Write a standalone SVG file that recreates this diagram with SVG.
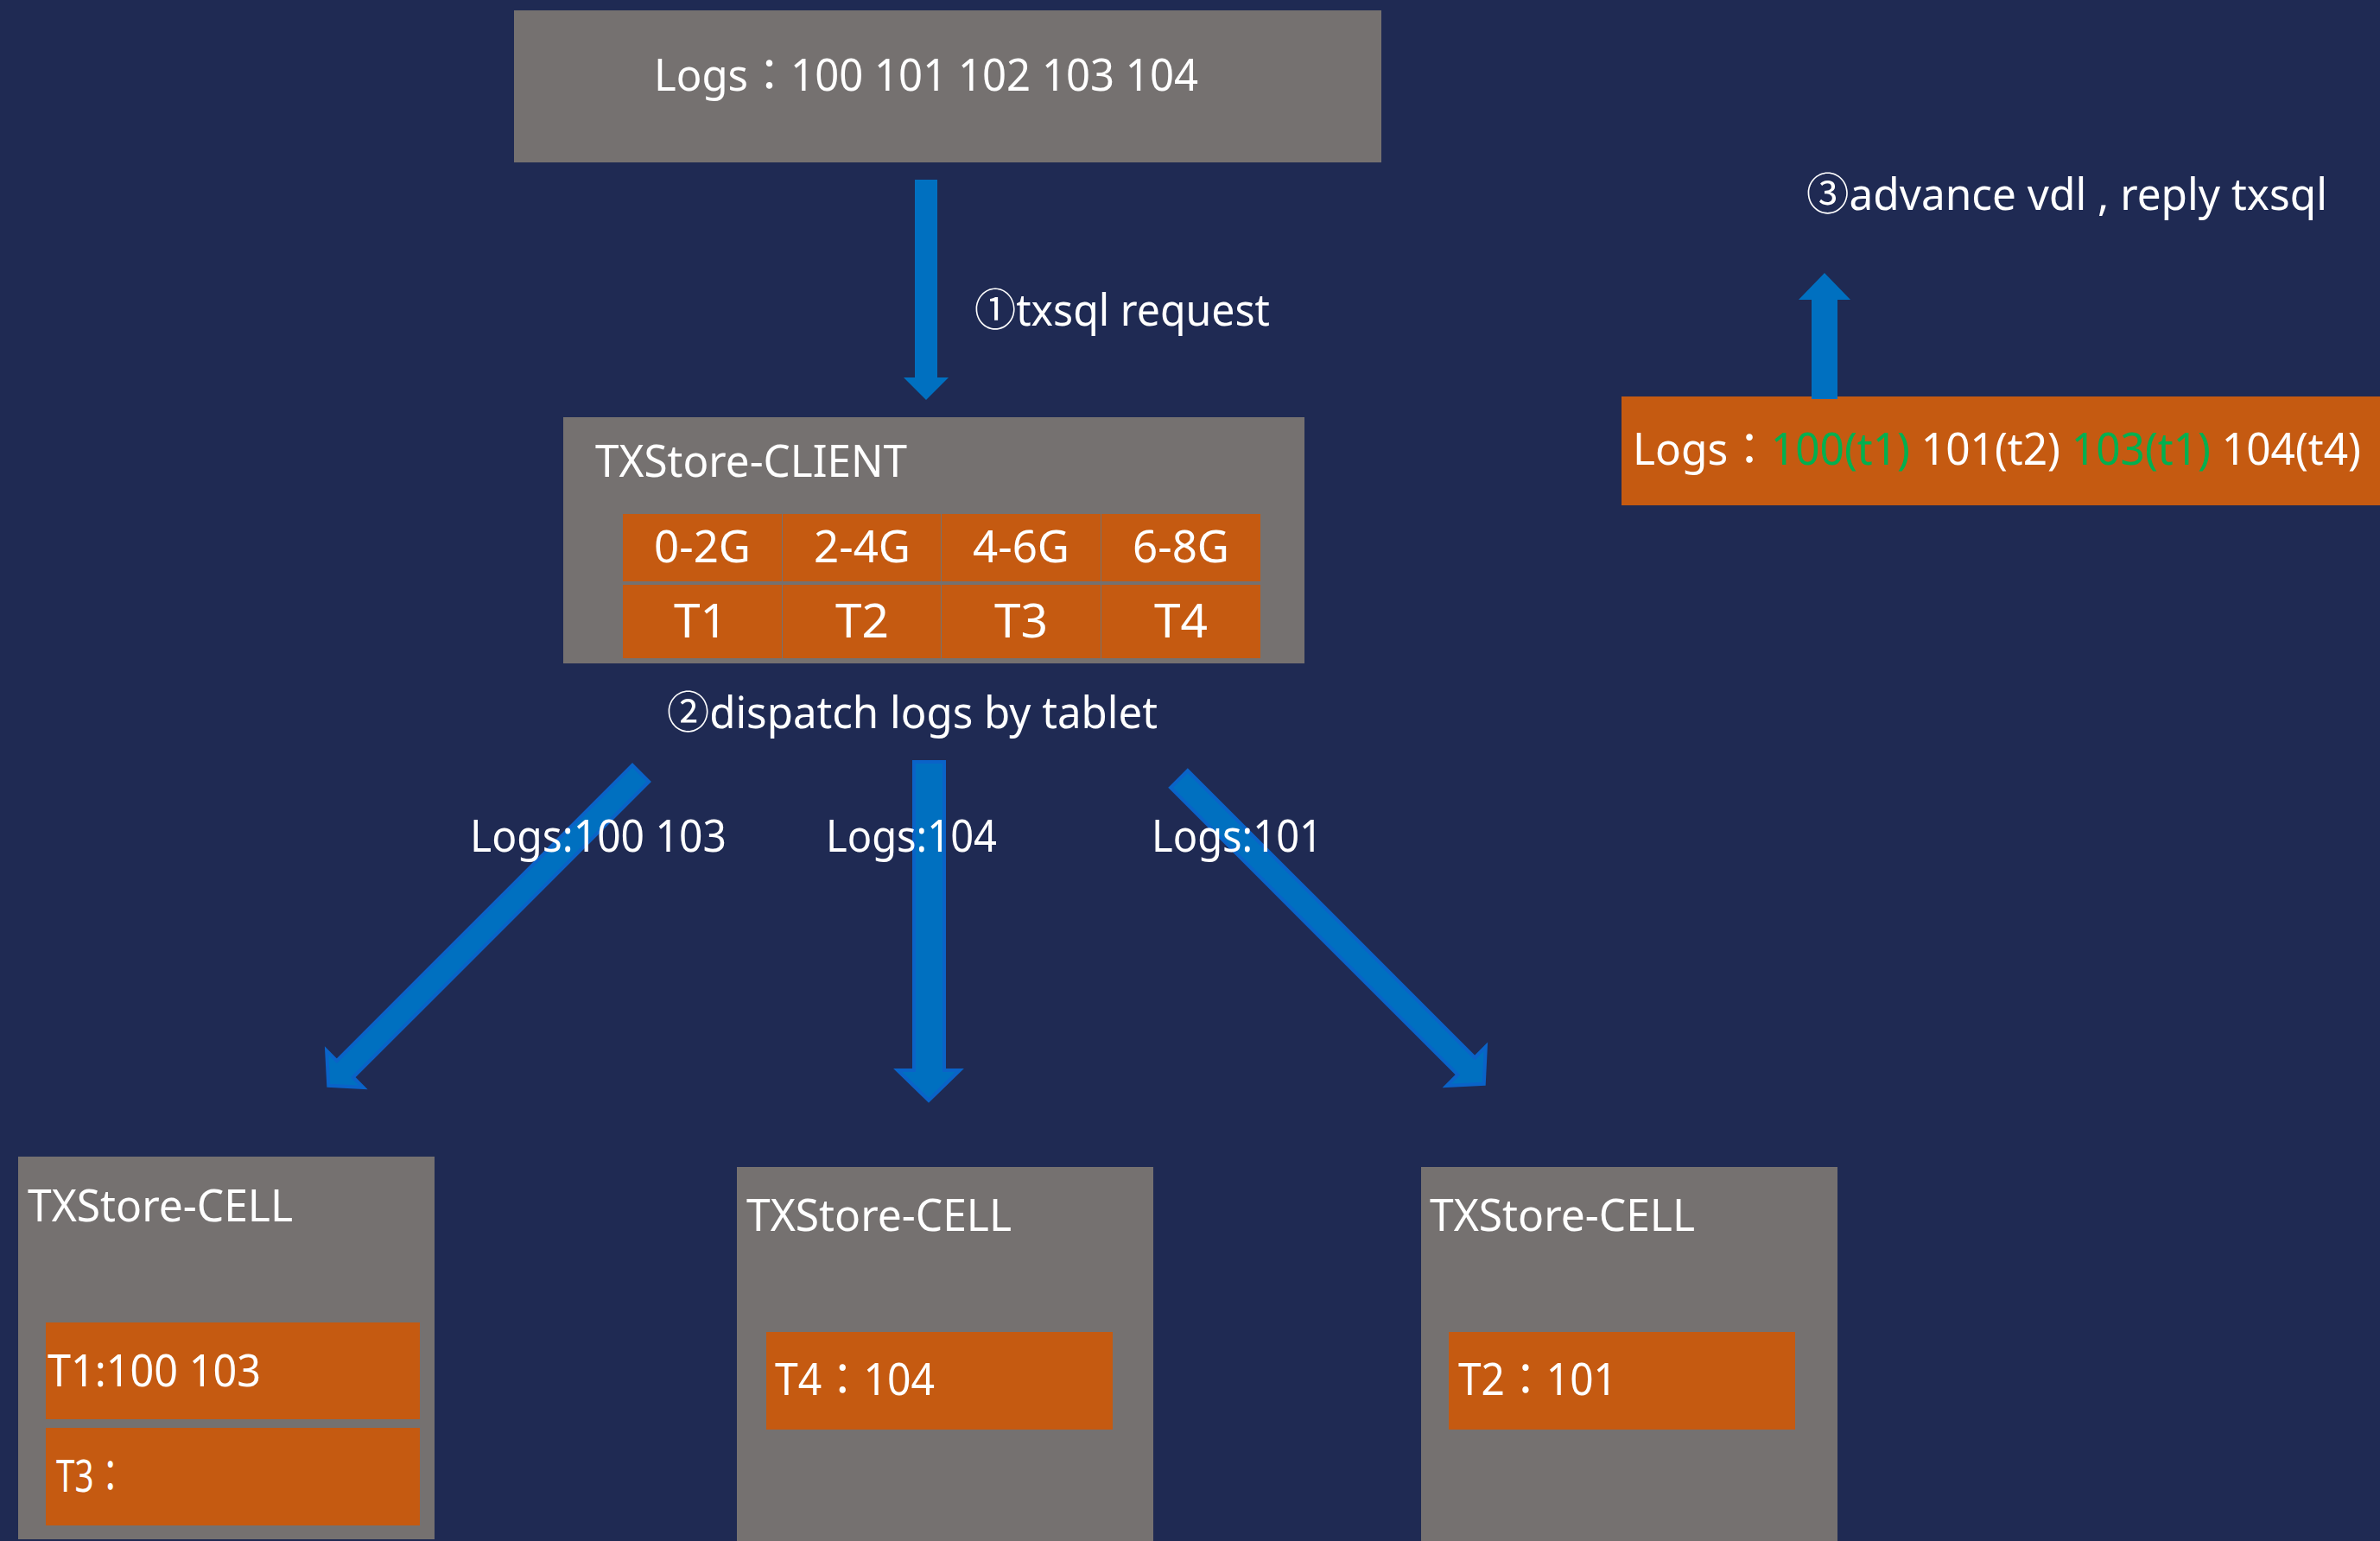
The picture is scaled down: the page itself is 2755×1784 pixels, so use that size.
<svg xmlns="http://www.w3.org/2000/svg" width="2755" height="1784" viewBox="0 0 2755 1784">
<defs>
<style>
.bg{fill:#1f2a53}
.gray{fill:#757170}
.orange{fill:#c55a11}
.arrow{fill:#0070c0}
.arrowb{fill:#0070c0;stroke:#0a63c8;stroke-width:4;stroke-linejoin:miter}
text{font-family:"Noto Sans","Noto Sans CJK TC",sans-serif;font-size:51px;fill:#ffffff}
.c{text-anchor:middle}
.green{fill:#00b050}
</style>
</defs>
<rect class="bg" x="0" y="0" width="2755" height="1784"/>

<g id="logs-source">
<rect class="gray" x="595" y="12" width="1004" height="176"/>
<text x="757" y="105" textLength="630" lengthAdjust="spacingAndGlyphs">Logs：100 101 102 103 104</text>
</g>

<g id="txstore-client">
<rect class="gray" x="652" y="483" width="858" height="285"/>
<text x="689" y="552" textLength="361" lengthAdjust="spacingAndGlyphs">TXStore-CLIENT</text>
<rect class="orange" x="721" y="595" width="184" height="78"/>
<rect class="orange" x="906" y="595" width="183" height="78"/>
<rect class="orange" x="1090" y="595" width="184" height="78"/>
<rect class="orange" x="1275" y="595" width="184" height="78"/>
<rect class="orange" x="721" y="677" width="184" height="85"/>
<rect class="orange" x="906" y="677" width="183" height="85"/>
<rect class="orange" x="1090" y="677" width="184" height="85"/>
<rect class="orange" x="1275" y="677" width="184" height="85"/>
<text class="c" x="813" y="651">0-2G</text>
<text class="c" x="998" y="651">2-4G</text>
<text class="c" x="1182" y="651">4-6G</text>
<text class="c" x="1367" y="651">6-8G</text>
<text class="c" x="811" y="738" style="font-size:55px">T1</text>
<text class="c" x="998" y="738" style="font-size:55px">T2</text>
<text class="c" x="1182" y="738" style="font-size:55px">T3</text>
<text class="c" x="1367" y="738" style="font-size:55px">T4</text>
</g>

<g id="logs-result">
<rect class="orange" x="1877" y="459" width="878" height="126"/>
<text x="1890" y="538" textLength="843" lengthAdjust="spacingAndGlyphs">Logs：<tspan class="green">100(t1)</tspan> 101(t2) <tspan class="green">103(t1)</tspan> 104(t4)</text>
</g>

<g id="cell-1">
<rect class="gray" x="21" y="1339" width="482" height="443"/>
<text x="32" y="1414" textLength="307" lengthAdjust="spacingAndGlyphs">TXStore-CELL</text>
<rect class="orange" x="53" y="1531" width="433" height="112"/>
<rect class="orange" x="53" y="1653" width="433" height="113"/>
<text x="55" y="1605" textLength="247" lengthAdjust="spacingAndGlyphs">T1:100 103</text>
<text x="65" y="1727" textLength="82" lengthAdjust="spacingAndGlyphs">T3：</text>
</g>

<g id="cell-2">
<rect class="gray" x="853" y="1351" width="482" height="433"/>
<text x="864" y="1425" textLength="307" lengthAdjust="spacingAndGlyphs">TXStore-CELL</text>
<rect class="orange" x="887" y="1542" width="401" height="113"/>
<text x="897" y="1615" textLength="185" lengthAdjust="spacingAndGlyphs">T4：104</text>
</g>

<g id="cell-3">
<rect class="gray" x="1645" y="1351" width="482" height="433"/>
<text x="1655" y="1425" textLength="307" lengthAdjust="spacingAndGlyphs">TXStore-CELL</text>
<rect class="orange" x="1677" y="1542" width="401" height="113"/>
<text x="1688" y="1615" textLength="184" lengthAdjust="spacingAndGlyphs">T2：101</text>
</g>

<g id="connectors">
<polygon class="arrow" points="1059,208 1085,208 1085,437 1098,437 1072,463 1046,437 1059,437"/>
<polygon class="arrow" points="2097,462 2127,462 2127,347 2142,347 2112,316 2082,347 2097,347"/>
<polygon class="arrowb" points="1058,882 1093,882 1093,1239 1111,1239 1075,1274 1039,1239 1058,1239"/>
<polygon class="arrowb" transform="translate(743,894) rotate(45)" points="-13.5,2 13.5,2 13.5,486 30,486 0,513 -30,486 -13.5,486"/>
<polygon class="arrowb" transform="translate(1363.5,900.5) rotate(-45)" points="-14,2 14,2 14,472 32,472 0,501 -32,472 -14,472"/>
</g>

<g id="labels">
<text x="1128" y="377" textLength="342" lengthAdjust="spacingAndGlyphs">①txsql request</text>
<text x="772" y="843" textLength="568" lengthAdjust="spacingAndGlyphs">②dispatch logs by tablet</text>
<text x="2091" y="243" textLength="603" lengthAdjust="spacingAndGlyphs">③advance vdl , reply txsql</text>
<text x="544" y="986" textLength="297" lengthAdjust="spacingAndGlyphs">Logs:100 103</text>
<text x="956" y="986" textLength="198" lengthAdjust="spacingAndGlyphs">Logs:104</text>
<text x="1333" y="986" textLength="198" lengthAdjust="spacingAndGlyphs">Logs:101</text>
</g>
</svg>
